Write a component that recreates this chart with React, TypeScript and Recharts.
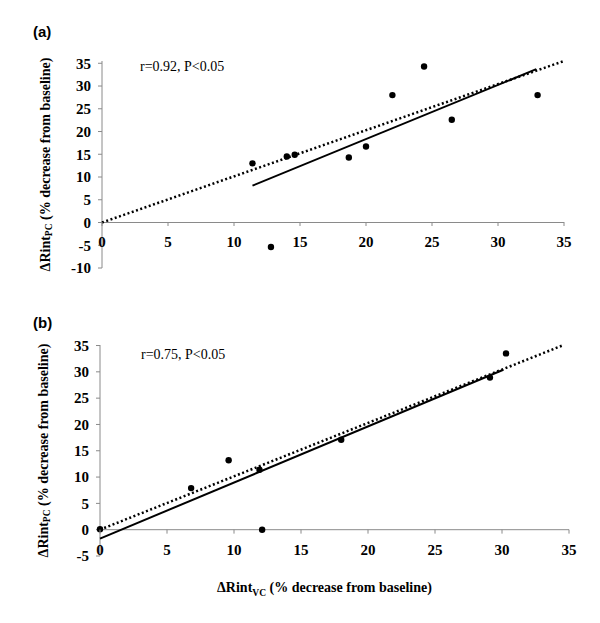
import React from 'react';
import { ScatterChart, Scatter, XAxis, YAxis, ReferenceLine } from 'recharts';

// shared x ticks (ΔRint VC, %)
const xTicks = [0, 5, 10, 15, 20, 25, 30, 35];

// panel (a)
const aTicksY = [-10, -5, 0, 5, 10, 15, 20, 25, 30, 35];
const aVC = [11.4, 14.0, 14.6, 18.7, 20.0, 22.0, 24.4, 26.5, 33.0, 12.8];
const aPC = [13.0, 14.5, 14.9, 14.3, 16.7, 28.0, 34.3, 22.6, 28.0, -5.4];
const aFitVC = [11.4, 32.9];
const aFitPC = [8.1, 33.7];
const aIdVC = [0, 35];
const aIdPC = [0, 35.5];

// panel (b)
const bTicksY = [-5, 0, 5, 10, 15, 20, 25, 30, 35];
const bVC = [0, 6.8, 9.6, 11.9, 12.1, 18.0, 29.1, 30.3];
const bPC = [0.1, 7.9, 13.2, 11.4, 0.0, 17.1, 28.9, 33.5];
const bFitVC = [0, 30.1];
const bFitPC = [-1.7, 30.4];
const bIdVC = [0, 34.6];
const bIdPC = [0, 35.1];

const AXIS = '#8a8a8a';
const SERIF = '"Liberation Serif", "Times New Roman", serif';
const SANS = '"Liberation Sans", Arial, sans-serif';

const pts = (xs: number[], ys: number[]) => xs.map((x, i) => ({ x, y: ys[i] }));
const NoShape = () => <g />;
const Dot = (p: any) => <circle cx={p.cx} cy={p.cy} r={3.2} fill="#000" />;

// x ticks are drawn on the y=0 line, so shift them up from the plot bottom
const XTick = (props: any) => {
  const { x, y, payload, shift } = props;
  const y0 = y - shift;
  return (
    <g>
      <line x1={x} x2={x} y1={y0} y2={y0 + 4} stroke={AXIS} />
      <text x={x} y={y0 + 25} textAnchor="middle" fontFamily={SERIF} fontWeight="bold" fontSize={15} fill="#000">
        {payload.value}
      </text>
    </g>
  );
};

const YTitle = (props: any) => {
  const vb = props.viewBox;
  const cx = vb.x + 3;
  const cy = vb.y + vb.height / 2;
  return (
    <text
      x={cx}
      y={cy}
      transform={`rotate(-90 ${cx} ${cy})`}
      textAnchor="middle"
      dominantBaseline="central"
      fontFamily={SERIF}
      fontWeight="bold"
      fontSize={14}
      fill="#000"
    >
      ΔRint
      <tspan fontSize={9.5} dy={4}>PC</tspan>
      <tspan dy={-4}> (% decrease from baseline)</tspan>
    </text>
  );
};

const XTitle = (props: any) => {
  const vb = props.viewBox;
  const cx = vb.x + vb.width / 2 - 10;
  const cy = vb.y + 36;
  return (
    <text x={cx} y={cy} textAnchor="middle" fontFamily={SERIF} fontWeight="bold" fontSize={14} fill="#000">
      ΔRint
      <tspan fontSize={9.5} dy={4}>VC</tspan>
      <tspan dy={-4}> (% decrease from baseline)</tspan>
    </text>
  );
};

interface PanelProps {
  height: number;
  axisH: number;
  margin: { top: number; right: number; bottom: number; left: number };
  yTicks: number[];
  vc: number[];
  pc: number[];
  fitVC: number[];
  fitPC: number[];
  idVC: number[];
  idPC: number[];
  xTitle?: boolean;
}

const Panel = ({ height, axisH, margin, yTicks, vc, pc, fitVC, fitPC, idVC, idPC, xTitle }: PanelProps) => {
  const yMin = yTicks[0];
  const yMax = yTicks[yTicks.length - 1];
  const plotH = height - margin.top - margin.bottom - axisH;
  const shift = (plotH * (0 - yMin)) / (yMax - yMin);
  return (
    <ScatterChart width={600} height={height} margin={margin}>
      <XAxis
        type="number"
        dataKey="x"
        domain={[0, 35]}
        ticks={xTicks}
        height={axisH}
        axisLine={false}
        tickLine={false}
        tickSize={0}
        tickMargin={0}
        interval={0}
        tick={(p: any) => <XTick {...p} shift={shift} />}
        label={xTitle ? <XTitle /> : undefined}
      />
      <YAxis
        type="number"
        dataKey="y"
        domain={[yMin, yMax]}
        ticks={yTicks}
        interval={0}
        width={60}
        axisLine={{ stroke: AXIS }}
        tickLine={{ stroke: AXIS }}
        tickSize={4}
        tickMargin={7}
        tick={{ fontFamily: SERIF, fontWeight: 'bold', fontSize: 15, fill: '#000' }}
        label={<YTitle />}
      />
      <ReferenceLine y={0} stroke={AXIS} />
      <Scatter
        data={pts(idVC, idPC)}
        line={{ stroke: '#000', strokeWidth: 2.5, strokeDasharray: '2 2.5' }}
        shape={NoShape}
        isAnimationActive={false}
      />
      <Scatter
        data={pts(fitVC, fitPC)}
        line={{ stroke: '#000', strokeWidth: 2 }}
        shape={NoShape}
        isAnimationActive={false}
      />
      <Scatter data={pts(vc, pc)} fill="#000" shape={Dot} isAnimationActive={false} />
    </ScatterChart>
  );
};

const noteStyle: React.CSSProperties = {
  position: 'absolute',
  fontFamily: SERIF,
  fontSize: 14,
  lineHeight: '14px',
  color: '#000',
  whiteSpace: 'nowrap',
};

const tagStyle: React.CSSProperties = {
  position: 'absolute',
  fontFamily: SANS,
  fontWeight: 'bold',
  fontSize: 15,
  lineHeight: '15px',
  color: '#000',
};

export default function App() {
  return (
    <div style={{ position: 'absolute', left: 0, top: 0, width: 600, height: 623, background: '#fff' }}>
      <div style={{ position: 'absolute', left: 0, top: 0 }}>
        <Panel
          height={300}
          axisH={30}
          margin={{ top: 61, right: 36, bottom: 2, left: 42 }}
          yTicks={aTicksY}
          vc={aVC}
          pc={aPC}
          fitVC={aFitVC}
          fitPC={aFitPC}
          idVC={aIdVC}
          idPC={aIdPC}
        />
      </div>
      <div style={{ position: 'absolute', left: 0, top: 300 }}>
        <Panel
          height={323}
          axisH={45}
          margin={{ top: 45, right: 31, bottom: 22, left: 40 }}
          yTicks={bTicksY}
          vc={bVC}
          pc={bPC}
          fitVC={bFitVC}
          fitPC={bFitPC}
          idVC={bIdVC}
          idPC={bIdPC}
          xTitle
        />
      </div>
      <div style={{ ...tagStyle, left: 33, top: 24 }}>(a)</div>
      <div style={{ ...tagStyle, left: 33, top: 315 }}>(b)</div>
      <div style={{ ...noteStyle, left: 140, top: 60 }}>r=0.92, P&lt;0.05</div>
      <div style={{ ...noteStyle, left: 141, top: 348 }}>r=0.75, P&lt;0.05</div>
    </div>
  );
}
